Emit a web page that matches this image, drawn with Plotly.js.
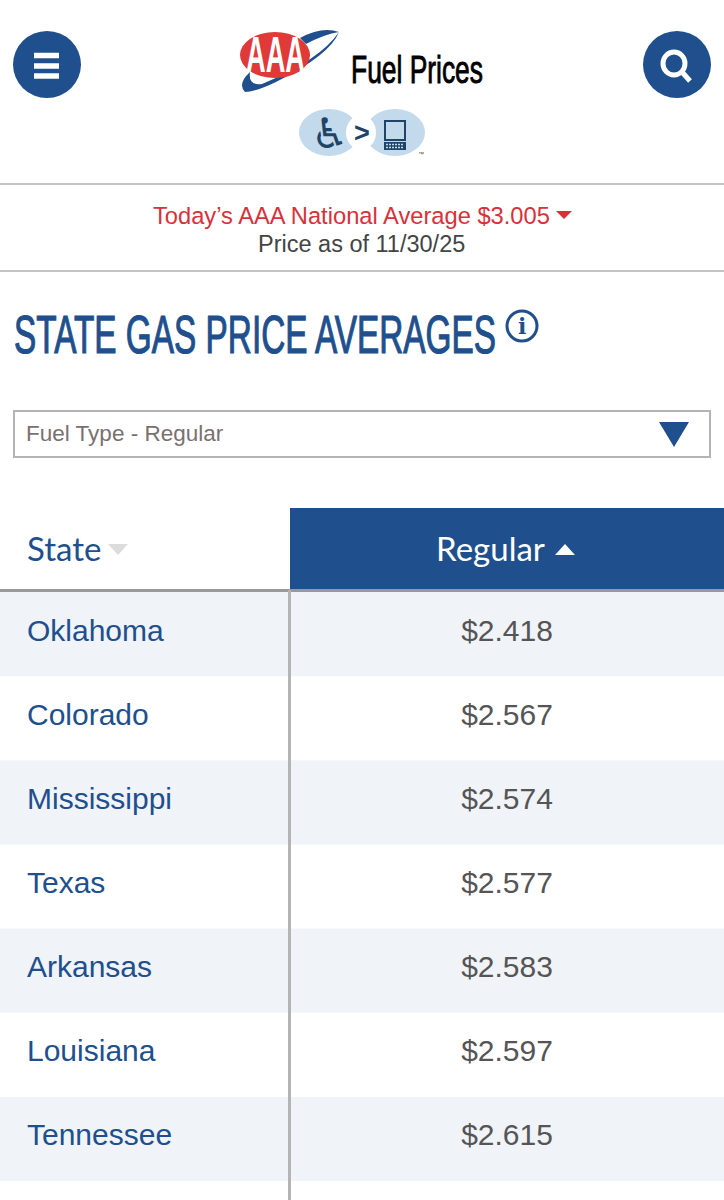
<!DOCTYPE html>
<html><head><meta charset="utf-8">
<script src="https://cdn.plot.ly/plotly-3.0.1.min.js"></script>
<style>html,body{margin:0;padding:0;background:#fff}#c{width:724px;height:1200px}</style>
</head><body><div id="c"></div>
<script>
const states = ["Oklahoma","Colorado","Mississippi","Texas","Arkansas","Louisiana","Tennessee"];
const prices = ["$2.418","$2.567","$2.574","$2.577","$2.583","$2.597","$2.615"];
const headers = ["State","Regular"];
const W=724,H=1200;
const BLUE="#204f8d", BAND="#f0f3f8", RED="#d7313a", GREY="#555555", RULE="#b4b4b4", NAVY="#1f4468";
const px=x=>x/W, py=y=>1-y/H;
function rect(x0,y0,x1,y1,fill,extra){return Object.assign({type:'rect',xref:'paper',yref:'paper',x0:px(x0),x1:px(x1),y0:py(y0),y1:py(y1),fillcolor:fill,line:{width:0}},extra||{});}
function circ(x0,y0,x1,y1,fill,extra){return Object.assign({type:'circle',xref:'paper',yref:'paper',x0:px(x0),x1:px(x1),y0:py(y0),y1:py(y1),fillcolor:fill,line:{width:0}},extra||{});}
function path(pts,fill,extra){const d=pts.map(p=>typeof p==='string'?p:px(p[0])+','+py(p[1])).join(' ');return Object.assign({type:'path',xref:'paper',yref:'paper',path:d,fillcolor:fill,line:{width:0}},extra||{});}
function seg(x0,y0,x1,y1,color,w,extra){return Object.assign({type:'line',xref:'paper',yref:'paper',x0:px(x0),x1:px(x1),y0:py(y0),y1:py(y1),line:{color:color,width:w}},extra||{});}
function txt(x,y,text,size,color,family,anchor,extra){return Object.assign({xref:'paper',yref:'paper',x:px(x),y:py(y),text:text,showarrow:false,xanchor:anchor||'left',yanchor:'middle',font:{size:size,color:color,family:family},borderpad:0},extra||{});}
const SANS="Liberation Sans";
const bands=states.map((s,i)=>i%2==0?rect(0,592+i*84.15,724,592+(i+1)*84.15,BAND,{layer:'below'}):null).filter(Boolean);
const shapes=[
 ...bands,
 rect(290,508,724,589,BLUE,{layer:'below'}),
 // buttons
 circ(13,31,81,98,BLUE), circ(643,31,711,98,BLUE),
 seg(34,55.5,59,55.5,"#fff",5.5), seg(34,66,59,66,"#fff",5.5), seg(34,76,59,76,"#fff",5.5),
 circ(663,52,685,75,"rgba(0,0,0,0)",{line:{color:"#fff",width:5}}), seg(682,72,690,81,"#fff",5),
 // logo swoosh
 path(['M',[339,32],'Q',[322,26],[300,38],'L',[306,44],'Q',[325,34],[339,32],'Z'],BLUE),
 path(['M',[339,32],'Q',[330,55],[276,82],'Q',[255,92],[245,92],'Q',[237,84],[250,72],'Q',[248,86],[262,84],'Q',[320,60],[339,32],'Z'],BLUE),
 circ(240,32,310,78,"#df3a37"),
 // accessibility badge
 circ(299,109,359,156,"#c3d9ec"), circ(365,109,425,156,"#c3d9ec"),
 circ(346,115,376,150,"#fff"),
 rect(385,121,405,140,"#c3d9ec",{line:{color:NAVY,width:2}}),
 rect(384,142,406,150,NAVY),
 seg(386,144.5,404,144.5,"#c3d9ec",1.3,{line:{color:"#c3d9ec",width:1.3,dash:'2px,1px'}}),
 seg(386,147.5,404,147.5,"#c3d9ec",1.3,{line:{color:"#c3d9ec",width:1.3,dash:'2px,1px'}}),
 // rules
 seg(0,184,724,184,"#c4c4c4",2), seg(0,271,724,271,"#c4c4c4",2),
 // selector
 rect(14,411,710,457,"#fff",{line:{color:RULE,width:2}}),
 path(['M',[659,422],'L',[689,422],'L',[674,447],'Z'],BLUE),
 // info icon
 circ(507,311,537,341,"rgba(0,0,0,0)",{line:{color:BLUE,width:3}}),
 // national avg triangle
 path(['M',[556,211],'L',[572,211],'L',[564,219],'Z'],RED),
 // sort triangles
 path(['M',[108,544],'L',[128,544],'L',[118,555],'Z'],"#dcdcdc"),
 path(['M',[555,555],'L',[575,555],'L',[565,544],'Z'],"#fff"),
 // table rules
 seg(0,590.5,724,590.5,"#999",3),
 seg(289.5,590,289.5,1200,RULE,3)
];
const annotations=[
 txt(351,69,"Fuel Prices",39,"#000",SANS),
 txt(275,55,"AAA",50,"#fff",SANS,'center',{font:{size:50,color:"#fff",family:SANS,weight:700}}),
 txt(362,133,"&gt;",27,NAVY,SANS,'center',{font:{size:27,color:NAVY,family:SANS,weight:700}}),
 txt(330,133,"♿",42,NAVY,"DejaVu Sans",'center'),
 txt(421,154,"™",6,"#444",SANS,'center'),
 txt(351,216,"Today’s AAA National Average $3.005",23.7,RED,SANS,'center'),
 txt(361,244,"Price as of 11/30/25",23.5,"#444",SANS,'center'),
 txt(14,334,"STATE GAS PRICE AVERAGES",53,BLUE,SANS),
 txt(522,326,"i",22,BLUE,"DejaVu Serif",'center',{font:{size:22,color:BLUE,family:"DejaVu Serif",weight:700}}),
 txt(25,433,"Fuel Type - Regular",22.5,"#7a7070",SANS)
];
const pad="\u00a0\u00a0\u00a0\u00a0";
const table={type:'table',
 domain:{x:[0,1],y:[0,1-528/H]},
 columnwidth:[19,271,434],
 header:{values:["",headers[0],headers[1]+pad],
  height:82,align:['left','left','center'],
  fill:{color:'rgba(0,0,0,0)'},line:{width:0},
  font:{family:"Lato",size:33,color:[BLUE,BLUE,'#fff']}},
 cells:{values:[states.map(()=>""),states,prices],
  height:84,align:['left','left','center'],
  fill:{color:'rgba(0,0,0,0)'},line:{width:0},
  font:{family:SANS,size:30,color:[BLUE,BLUE,GREY]}}
};
// Condense the display lettering horizontally to the reference's widths.
function fit(i,left,right,stroke){
 const t=document.querySelector('.annotation[data-index="'+i+'"] .annotation-text');
 if(!t)return;
 const b=t.getBBox(), r=t.getBoundingClientRect();
 const s=(right-left)/b.width, lx=b.x+(left-r.left);
 t.setAttribute('transform','translate('+lx+',0) scale('+s+',1) translate('+(-b.x)+',0)');
 if(stroke){t.style.stroke=stroke[0];t.style.strokeWidth=stroke[1]+'px';}
}
Plotly.newPlot('c',[table],{width:W,height:H,margin:{l:0,r:0,t:0,b:0},paper_bgcolor:'rgba(0,0,0,0)',plot_bgcolor:'rgba(0,0,0,0)',showlegend:false,shapes,annotations},{displayModeBar:false,staticPlot:true}).then(()=>{
 fit(0,351,483,["#000",0.9]);fit(1,246,305);fit(7,14,496,[BLUE,1.2]);
});
</script></body></html>
